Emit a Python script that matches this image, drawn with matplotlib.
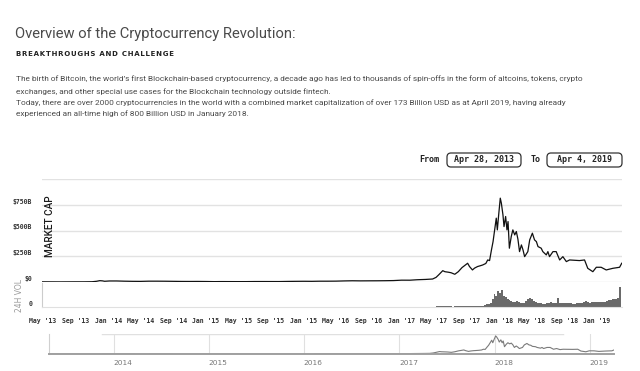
import pandas as pd
import numpy as np
import matplotlib
matplotlib.use('Agg')
import matplotlib.pyplot as plt
import matplotlib.dates as mdates
from matplotlib.patches import FancyBboxPatch
from matplotlib.transforms import IdentityTransform, ScaledTranslation

W, H = 640, 371

# total market cap, billions USD
mcap_dates = [
    '2013-04-28', '2013-06-01', '2013-07-05', '2013-08-01', '2013-09-01',
    '2013-10-01', '2013-11-01', '2013-11-18', '2013-11-30', '2013-12-10',
    '2013-12-18', '2014-01-05', '2014-02-01', '2014-03-01', '2014-04-01',
    '2014-05-01', '2014-06-01', '2014-07-01', '2014-08-01', '2014-09-01',
    '2014-10-01', '2014-11-01', '2014-12-01', '2015-01-01', '2015-02-01',
    '2015-03-01', '2015-04-01', '2015-05-01', '2015-06-01', '2015-07-01',
    '2015-08-01', '2015-09-01', '2015-10-01', '2015-11-01', '2015-12-01',
    '2016-01-01', '2016-02-01', '2016-03-01', '2016-04-01', '2016-05-01',
    '2016-06-01', '2016-07-01', '2016-08-01', '2016-09-01', '2016-10-01',
    '2016-11-01', '2016-12-01', '2017-01-01', '2017-02-01', '2017-03-01',
    '2017-04-01', '2017-04-27', '2017-05-10', '2017-05-20', '2017-06-04',
    '2017-06-12', '2017-06-25', '2017-07-05', '2017-07-19', '2017-08-01',
    '2017-08-15', '2017-08-25', '2017-09-05', '2017-09-12', '2017-09-23',
    '2017-10-01', '2017-10-12', '2017-10-20', '2017-10-31', '2017-11-12',
    '2017-11-19', '2017-11-26', '2017-12-03', '2017-12-09', '2017-12-15',
    '2017-12-21', '2017-12-25', '2017-12-30', '2018-01-05', '2018-01-09',
    '2018-01-15', '2018-01-19', '2018-01-25', '2018-01-30', '2018-02-03',
    '2018-02-08', '2018-02-15', '2018-02-21', '2018-02-28', '2018-03-06',
    '2018-03-12', '2018-03-18', '2018-03-25', '2018-03-31', '2018-04-06',
    '2018-04-18', '2018-04-25', '2018-05-05', '2018-05-13', '2018-05-20',
    '2018-05-26', '2018-06-07', '2018-06-13', '2018-06-26', '2018-07-02',
    '2018-07-08', '2018-07-21', '2018-08-02', '2018-08-15', '2018-08-27',
    '2018-09-09', '2018-09-21', '2018-10-28', '2018-11-16', '2018-11-28',
    '2018-12-17', '2018-12-30', '2019-01-17', '2019-02-05', '2019-03-02',
    '2019-03-27', '2019-04-04']
mcap_values = [
    1.6, 1.3, 1.0, 1.3, 1.6,
    1.6, 2.5, 7, 13, 11,
    7, 10, 10, 8, 6.5,
    6, 8, 8, 7.5, 6.5,
    5.5, 5.2, 5.5, 4.8, 3.6,
    4.2, 3.9, 3.7, 3.8, 4.5,
    4.6, 4.4, 4.3, 5.6, 6.4,
    7.0, 6.5, 7.8, 7.8, 8.4,
    10.5, 12.0, 11.0, 11.5, 11.8,
    12.6, 13.8, 17.7, 17.5, 22,
    25, 29, 45, 70, 110,
    100, 95, 90, 75, 100,
    140, 160, 182, 150, 117,
    135, 150, 156, 165, 180,
    214, 208, 311, 392, 506,
    620, 506, 652, 814, 766,
    652, 538, 636, 506, 587,
    328, 441, 506, 457, 490,
    415, 295, 360, 311, 246,
    295, 409, 474, 409, 392,
    344, 328, 295, 263, 295,
    246, 295, 295, 214, 246,
    198, 214, 208, 214, 133,
    100, 143, 143, 117, 133,
    143, 182]

# weekly 24h volume, billions USD, weeks starting 2017-05-01
vol_start = '2017-05-01'
vol_values = [
    1.5, 2, 2.5, 3, 3, 3.5, 3, 2.5, 2, 2, 1.5, 2, 2.5,
    3, 3.5, 4, 3.5, 4, 3, 3.5, 2.5, 2.5, 3, 3.5, 3, 4,
    5, 7, 9, 10, 15, 30, 45, 40, 55, 48, 60, 40, 35,
    30, 24, 20, 18, 18, 20, 16, 14, 13, 14, 20, 28, 32,
    28, 22, 18, 15, 14, 13, 12, 12, 13, 14, 16, 15, 14,
    14, 32, 14, 13, 13, 14, 13, 14, 13, 12, 12, 13, 13,
    13, 14, 18, 20, 16, 15, 17, 18, 17, 16, 17, 17, 16,
    18, 20, 24, 26, 28, 30, 28, 32, 72]

tick_dates = ['2013-05-01', '2013-09-01', '2014-01-01', '2014-05-01',
              '2014-09-01', '2015-01-01', '2015-05-01', '2015-09-01',
              '2016-01-01', '2016-05-01', '2016-09-01', '2017-01-01',
              '2017-05-01', '2017-09-01', '2018-01-01', '2018-05-01',
              '2018-09-01', '2019-01-01']
tick_labels = ["May '13", "Sep '13", "Jan '14", "May '14", "Sep '14",
               "Jan '15", "May '15", "Sep '15", "Jan '15", "May '16",
               "Sep '16", "Jan '17", "May '17", "Sep '17", "Jan '18",
               "May '18", "Sep '18", "Jan '19"]
years = ['2014', '2015', '2016', '2017', '2018', '2019']

mcap_dates = pd.to_datetime(mcap_dates)
vol_dates = pd.date_range(vol_start, periods=len(vol_values), freq='7D')
x0, x1 = pd.Timestamp('2013-04-28'), pd.Timestamp('2019-04-05')

fig = plt.figure(figsize=(W / 100, H / 100), dpi=100)
fig.patch.set_facecolor('white')


def px_axes(left, top, right, bottom):
    """Axes from pixel box of the 640x371 picture"""
    return fig.add_axes([left / W, 1 - bottom / H, (right - left) / W,
                         (bottom - top) / H])


def ftext(x, y, s, **kw):
    return fig.text(x / W, 1 - y / H, s, **kw)


# Header
ftext(15, 34, 'Overview of the Cryptocurrency Revolution:', fontsize=10.6,
      family='Roboto', weight='normal', color='#4a4a4a', va='center')
ftext(16, 54, '\u200a'.join('BREAKTHROUGHS AND CHALLENGE'), fontsize=5.0,
      family='DejaVu Sans', weight='bold', color='#222222', va='center')
para = ['The birth of Bitcoin, the world\u2019s first Blockchain-based '
        'cryptocurrency, a decade ago has led to thousands of spin-offs in '
        'the form of altcoins, tokens, crypto',
        'exchanges, and other special use cases for the Blockchain '
        'technology outside fintech.',
        'Today, there are over 2000 cryptocurrencies in the world with a '
        'combined market capitalization of over 173 Billion USD as at April '
        '2019, having already',
        'experienced an all-time high of 800 Billion USD in January 2018.']
for yy, line in zip([79, 92, 103, 114], para):
    ftext(16, yy, line, fontsize=5.95, family='Roboto', color='#4a4a4a',
          va='center')

# Date range boxes
mono = dict(family='DejaVu Sans Mono', weight='bold', color='#222222',
            fontsize=6, va='center')
ftext(429, 159, 'From', ha='center', **mono)
ftext(536, 159, 'To', ha='center', **mono)
for bx0, bx1, txt in [(447, 521, 'Apr 28, 2013'), (547, 622, 'Apr 4, 2019')]:
    fig.add_artist(FancyBboxPatch((bx0, H - 167), bx1 - bx0, 14,
                                  boxstyle='round,pad=0,rounding_size=4',
                                  transform=IdentityTransform(),
                                  facecolor='white', edgecolor='#333333',
                                  linewidth=0.9))
    ftext((bx0 + bx1) / 2, 160, txt, ha='center', **mono)

tick_font = dict(family='DejaVu Sans Mono', weight='bold', size=4.7)

# Market cap panel
ax = px_axes(42, 179, 622, 282)
ax.plot(mcap_dates, mcap_values, color='#111111', lw=0.9, zorder=3)
ax.set_xlim(x0, x1)
ax.set_ylim(0, 1000)
ax.set_yticks([0, 250, 500, 750, 1000])
ax.set_yticklabels(['$0', '$250B', '$500B', '$750B', ''], **tick_font)
for lab in ax.get_yticklabels():
    lab.set_va('bottom')
ax.yaxis.grid(True, color='#e2e2e2', lw=1)
ax.set_axisbelow(True)
ax.tick_params(axis='y', length=0, pad=7, colors='#333333')
ax.set_xticks([])
for s in ax.spines.values():
    s.set_visible(False)
ax.text(0.006, 0.24, 'MARKET CAP', rotation=90, transform=ax.transAxes,
        fontsize=7.2, family='Roboto', weight='medium', color='#1a1a1a',
        va='bottom', ha='left')

# Volume panel
axv = px_axes(42, 283, 622, 307)
axv.bar(vol_dates, vol_values, width=7, align='edge', color='#6a6a6a',
        edgecolor='none')
axv.set_xlim(x0, x1)
axv.set_ylim(0, 85)
axv.set_yticks([0])
axv.set_yticklabels(['0'], **tick_font)
for lab in axv.get_yticklabels():
    lab.set_va('bottom')
axv.set_xticks(pd.to_datetime(tick_dates))
axv.set_xticklabels(tick_labels, **tick_font)
axv.tick_params(axis='both', length=0, colors='#333333')
axv.tick_params(axis='x', pad=8)
axv.tick_params(axis='y', pad=7)
axv.spines[['top', 'right']].set_visible(False)
axv.spines['left'].set_color('#cccccc')
axv.spines['bottom'].set_color('#e0e0e0')
ftext(20, 295, '24H VOL', rotation=90, fontsize=5.5, family='DejaVu Sans',
      color='#9a9a9a', ha='center', va='center')

# Navigator
axn = px_axes(49, 334, 614, 354)
axn.plot(mcap_dates, mcap_values, color='#7a7a7a', lw=0.8)
axn.set_xlim(mcap_dates[0], mcap_dates[-1])
axn.set_ylim(0, 900)
year_dates = pd.to_datetime([y + '-01-01' for y in years])
for d in year_dates:
    axn.axvline(d, color='#e0e0e0', lw=0.8, zorder=0)
axn.axhline(900, xmin=0.094, xmax=0.91, color='#e0e0e0', lw=1)
axn.set_yticks([])
axn.set_xticks(year_dates)
axn.set_xticklabels(years, fontsize=5.3, family='DejaVu Sans',
                    color='#777777')
axn.tick_params(axis='x', length=0, pad=4)
offset = ScaledTranslation(9 / 100, 0, fig.dpi_scale_trans)
for lab in axn.get_xticklabels():
    lab.set_transform(lab.get_transform() + offset)
axn.spines[['top', 'right']].set_visible(False)
axn.spines['left'].set_color('#d0d0d0')
axn.spines['bottom'].set_color('#a0a0a0')
axn.spines['bottom'].set_linewidth(1.4)

plt.savefig('out.png', dpi=100)
